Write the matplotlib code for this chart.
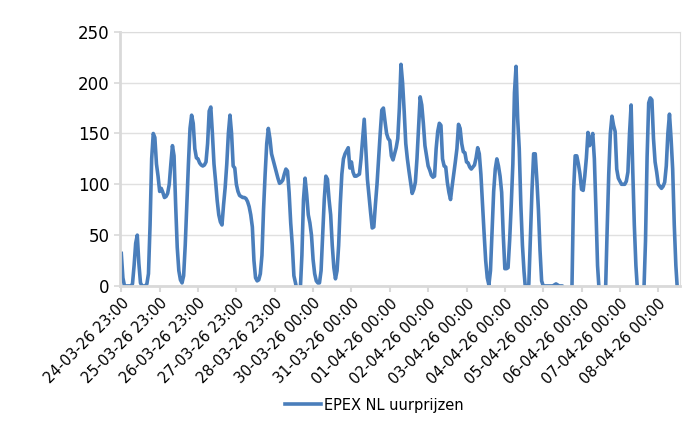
import numpy as np
import matplotlib.pyplot as plt

# EPEX NL uurprijzen, uurwaarden vanaf 24-03-26 23:00
prijzen = [
    32, 8, 0, 0, 0, 0, 0, 2, 20, 42, 50, 22, 3, 0, 0, 0, 2, 12, 60, 125, 150, 146, 120, 108,
    93, 96, 92, 87, 88, 91, 100, 120, 138, 128, 80, 38, 15, 6, 3, 10, 40, 80, 120, 155, 168, 160, 135, 126,
    125, 121, 119, 118, 119, 122, 140, 172, 176, 150, 120, 103, 84, 70, 63, 60, 80, 97, 120, 150, 168, 150, 118, 116,
    100, 93, 89, 88, 87, 87, 86, 83, 78, 70, 58, 25, 8, 5, 6, 12, 30, 75, 110, 140, 155, 145, 130, 124,
    118, 112, 106, 101, 102, 104, 110, 115, 113, 92, 62, 40, 10, 3, -5, -8, -4, 30, 85, 106, 90, 70, 62, 50,
    26, 12, 5, 3, 3, 15, 50, 85, 108, 105, 85, 70, 40, 18, 7, 15, 40, 80, 110, 125, 130, 133, 136, 116,
    122, 112, 108, 108, 109, 110, 125, 145, 164, 135, 105, 88, 72, 57, 58, 80, 100, 125, 150, 173, 175, 162, 150, 145,
    143, 128, 124, 130, 136, 145, 175, 218, 200, 172, 140, 125, 113, 102, 91, 95, 102, 125, 155, 186, 178, 160, 138, 128,
    118, 114, 109, 107, 108, 135, 152, 160, 158, 125, 118, 117, 102, 92, 85, 98, 110, 122, 135, 159, 155, 140, 132, 131,
    122, 121, 117, 115, 117, 119, 126, 136, 130, 110, 80, 52, 25, 8, 1, 15, 55, 93, 115, 125, 118, 108, 92, 50,
    17, 17, 18, 45, 80, 120, 190, 216, 165, 135, 80, 40, 14, -5, -6, 2, 50, 95, 130, 130, 105, 75, 35, 5,
    0, 0, 0, 0, 0, 0, 0, 1, 2, 1, 0, 0, 0, -5, -5, -5, -5, -5, 0, 93, 128, 128, 120, 110,
    95, 94, 108, 126, 151, 138, 145, 150, 125, 75, 20, -5, -10, -10, -10, -5, 55, 110, 150, 167, 158, 152, 115, 106,
    103, 100, 100, 100, 103, 112, 150, 178, 115, 60, 20, -5, -10, -10, -10, -5, 44, 127, 180, 185, 183, 145, 122, 112,
    100, 98, 96, 98, 102, 118, 150, 169, 145, 115, 60, 20, -5, -10,
]

labels = ['24-03-26 23:00', '25-03-26 23:00', '26-03-26 23:00', '27-03-26 23:00',
          '28-03-26 23:00', '30-03-26 00:00', '31-03-26 00:00', '01-04-26 00:00',
          '02-04-26 00:00', '03-04-26 00:00', '04-04-26 00:00', '05-04-26 00:00',
          '06-04-26 00:00', '07-04-26 00:00', '08-04-26 00:00']

uren = np.arange(len(prijzen))
tick_pos = np.arange(len(labels)) * 24

fig = plt.figure(figsize=(7, 4.3), dpi=100)
ax = fig.add_axes([0.171, 0.335, 0.8, 0.591])

ax.plot(uren, prijzen, color='#4a7ebb', lw=2.6, label='EPEX NL uurprijzen', solid_joinstyle='round')

ax.set_ylim(0, 250)
ax.set_yticks(range(0, 251, 50))
ax.set_xlim(-1.0, 349.4)
ax.set_xticks(tick_pos)
ax.set_xticklabels(labels, rotation=45, ha='right', rotation_mode='anchor', fontsize=10.5)
ax.tick_params(axis='y', labelsize=12, length=4, color='#d9d9d9', width=1.2)
ax.tick_params(axis='x', length=4, color='#d9d9d9', width=1.5, pad=3)

ax.grid(axis='y', color='#e0e0e0', lw=1)
ax.set_axisbelow(True)
for s in ['top', 'right']:
    ax.spines[s].set_color('#dcdcdc')
    ax.spines[s].set_linewidth(0.8)
for s in ['left', 'bottom']:
    ax.spines[s].set_color('#d9d9d9')
    ax.spines[s].set_linewidth(2)

fig.legend(loc='center', bbox_to_anchor=(0.535, 0.058), frameon=False, fontsize=10.5,
           handlelength=2.5, handletextpad=0.2)

plt.savefig('out.png')
